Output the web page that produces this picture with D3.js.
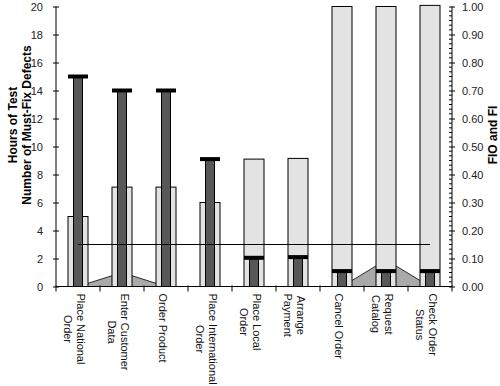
<!DOCTYPE html>
<html>
<head>
<meta charset="utf-8">
<script src="https://cdn.jsdelivr.net/npm/d3@7"></script>
<style>
  body { margin: 0; background: #fff; }
  svg { font-family: "Liberation Sans", Arial, sans-serif; }
</style>
</head>
<body>
<div id="chart"></div>
<script>
// categories (label lines as drawn under the axis)
var categories = ["Place National Order", "Enter Customer Data", "Order Product",
  "Place International Order", "Place Local Order", "Arrange Payment",
  "Cancel Order", "Request Catalog", "Check Order Status"];
var labelLines = [["Place National", "Order"], ["Enter Customer", "Data"], ["Order Product"],
  ["Place International", "Order"], ["Place Local", "Order"], ["Arrange", "Payment"],
  ["Cancel Order"], ["Request", "Catalog"], ["Check Order", "Status"]];

// left axis series
var hoursOfTest = [5, 7.1, 7.1, 6, 9.1, 9.15, 20, 20, 20.08];
var mustFixDefects = [15, 14, 14, 9.1, 2.05, 2.1, 1.1, 1.1, 1.1];
// right axis series
var fio = [0, 0.05, 0, 0, 0, 0, 0, 0.095, 0];
var fi = [0.15, 0.15, 0.15, 0.15, 0.15, 0.15, 0.15, 0.15, 0.15];

var leftTicks = [0, 2, 4, 6, 8, 10, 12, 14, 16, 18, 20];
var rightTicks = [0, 0.1, 0.2, 0.3, 0.4, 0.5, 0.6, 0.7, 0.8, 0.9, 1.0];

var svgWidth = 500, svgHeight = 386;
var margin = { top: 6.5, right: 48, bottom: 99.5, left: 56 };
var width = svgWidth - margin.left - margin.right;
var height = svgHeight - margin.top - margin.bottom;

var svg = d3.select("#chart").append("svg")
  .attr("width", svgWidth)
  .attr("height", svgHeight);

var chartGroup = svg.append("g")
  .attr("transform", `translate(${margin.left}, ${margin.top})`);

var x = d3.scaleBand().domain(categories).range([0, width]);
var yLeft = d3.scaleLinear().domain([0, 20]).range([height, 0]);
var yRight = d3.scaleLinear().domain([0, 1]).range([height, 0]);

var cx = function(i) { return x(categories[i]) + x.bandwidth() / 2; };
var lightW = 20, darkW = 9, capH = 4;

// FIO area (behind the bars)
var area = d3.area()
  .x((d, i) => cx(i))
  .y0(yRight(0))
  .y1(d => yRight(d));
chartGroup.append("path")
  .datum(fio)
  .attr("d", area)
  .attr("fill", "#a9a9a9")
  .attr("stroke", "none");
chartGroup.append("path")
  .datum(fio)
  .attr("d", d3.line().x((d, i) => cx(i)).y(d => yRight(d)))
  .attr("fill", "none")
  .attr("stroke", "#000")
  .attr("stroke-width", 0.8);

// hours of test bars
chartGroup.selectAll(".light")
  .data(hoursOfTest)
  .enter()
  .append("rect")
  .attr("class", "light")
  .attr("x", (d, i) => cx(i) - lightW / 2)
  .attr("y", d => yLeft(d))
  .attr("width", lightW)
  .attr("height", d => height - yLeft(d))
  .attr("fill", "#e3e3e3")
  .attr("stroke", "#000")
  .attr("stroke-width", 1);

// defects bars
chartGroup.selectAll(".dark")
  .data(mustFixDefects)
  .enter()
  .append("rect")
  .attr("class", "dark")
  .attr("x", (d, i) => cx(i) - darkW / 2)
  .attr("y", d => yLeft(d))
  .attr("width", darkW)
  .attr("height", d => height - yLeft(d))
  .attr("fill", "#585858")
  .attr("stroke", "#000")
  .attr("stroke-width", 1);

// caps
chartGroup.selectAll(".cap")
  .data(mustFixDefects)
  .enter()
  .append("rect")
  .attr("class", "cap")
  .attr("x", (d, i) => cx(i) - lightW / 2)
  .attr("y", d => yLeft(d) - capH / 2)
  .attr("width", lightW)
  .attr("height", capH)
  .attr("fill", "#000");

// FI line
chartGroup.append("path")
  .datum(fi)
  .attr("d", d3.line().x((d, i) => cx(i)).y(d => yRight(d)))
  .attr("fill", "none")
  .attr("stroke", "#000")
  .attr("stroke-width", 1);

// left axis
var leftAxis = d3.axisLeft(yLeft).tickValues(leftTicks).tickSize(3).tickPadding(10);
var yAxisL = chartGroup.append("g").call(leftAxis);
yAxisL.selectAll(".tick line").attr("x1", 3);
yAxisL.select(".domain").attr("d", `M0,${height}V0`);

// right axis
var rightAxis = d3.axisRight(yRight).tickValues(rightTicks).tickSize(3).tickPadding(7)
  .tickFormat(d3.format(".2f"));
var yAxisR = chartGroup.append("g")
  .attr("transform", `translate(${width}, 0)`)
  .call(rightAxis);
yAxisR.selectAll(".tick line").attr("x1", -3);
yAxisR.select(".domain").attr("d", `M0,${height}V0`);
// minor ticks on right axis
var minor = d3.range(0, 60).filter(k => k % 6 !== 0).map(k => k / 60);
yAxisR.selectAll(".minor")
  .data(minor)
  .enter()
  .append("line")
  .attr("x1", -3).attr("x2", 0)
  .attr("y1", d => yRight(d)).attr("y2", d => yRight(d))
  .attr("stroke", "#000");

[yAxisL, yAxisR].forEach(function(a) {
  a.selectAll("text").attr("font-size", 11).attr("fill", "#222")
    .attr("font-family", "Liberation Sans, Arial, sans-serif");
  a.selectAll("line, path").attr("stroke", "#000");
});

// bottom axis
var xAxis = chartGroup.append("g").attr("transform", `translate(0, ${height})`);
xAxis.append("line").attr("x1", 0).attr("x2", width).attr("stroke", "#000");
xAxis.selectAll(".bt")
  .data(categories)
  .enter()
  .append("line")
  .attr("x1", d => x(d)).attr("x2", d => x(d))
  .attr("y1", -1).attr("y2", 5)
  .attr("stroke", "#000");
xAxis.append("line").attr("x1", width).attr("x2", width).attr("y1", -1).attr("y2", 5).attr("stroke", "#000");

// category labels, rotated
var lh = 13.5;
labelLines.forEach(function(lines, i) {
  var g = chartGroup.append("g")
    .attr("transform", `translate(${cx(i) - 3.5}, ${height + 7}) rotate(90)`);
  var texts = g.selectAll("text")
    .data(lines)
    .enter()
    .append("text")
    .attr("font-size", 11)
    .attr("fill", "#111")
    .attr("dominant-baseline", "central")
    .attr("y", (d, j) => (j - (lines.length - 1) / 2) * lh)
    .text(d => d);
  var maxW = d3.max(texts.nodes(), n => n.getComputedTextLength());
  texts.attr("text-anchor", "middle").attr("x", maxW / 2);
});

// axis titles
svg.append("text")
  .attr("transform", "translate(13, 125) rotate(-90)")
  .attr("text-anchor", "middle")
  .attr("dominant-baseline", "central")
  .attr("font-size", 12)
  .attr("font-weight", "bold")
  .text("Hours of Test");
svg.append("text")
  .attr("transform", "translate(27, 125) rotate(-90)")
  .attr("text-anchor", "middle")
  .attr("dominant-baseline", "central")
  .attr("font-size", 12)
  .attr("font-weight", "bold")
  .text("Number of Must-Fix Defects");
svg.append("text")
  .attr("transform", "translate(493, 135) rotate(-90)")
  .attr("text-anchor", "middle")
  .attr("dominant-baseline", "central")
  .attr("font-size", 12)
  .attr("font-weight", "bold")
  .text("FIO and FI");
</script>
</body>
</html>
